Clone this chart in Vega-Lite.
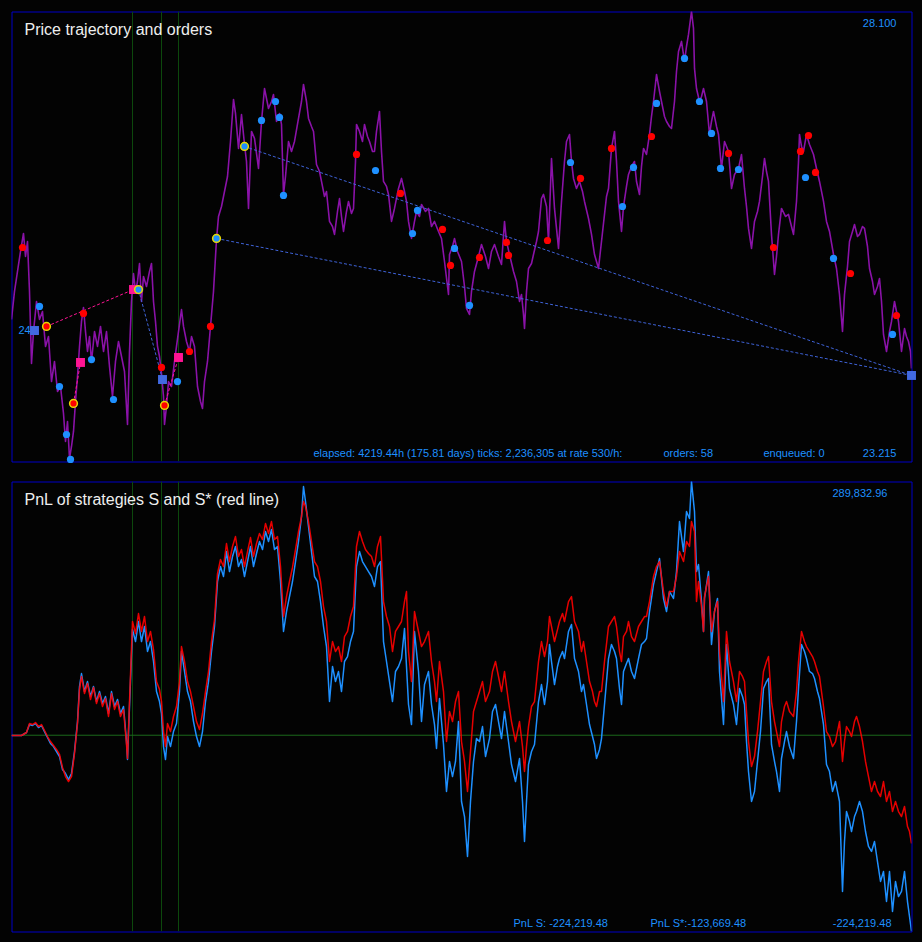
{
"$schema": "https://vega.github.io/schema/vega-lite/v6.json",
"background": "#030303",
"padding": {"left": 10.5, "top": 10.5, "right": 11.5, "bottom": 11.5},
"spacing": 20,
"bounds": "flush",
"config": {"view": {"stroke": "#0000c8", "strokeWidth": 1}, "text": {"font": "Liberation Sans"}},
"datasets": {
"price": [
{"t":0,"price":24.757},{"t":3,"price":25.061},{"t":6,"price":25.278},{"t":9,"price":25.495},{"t":12,"price":25.690},{"t":14,"price":25.441},{"t":16,"price":25.603},{"t":18,"price":25.061},{"t":20,"price":24.279},{"t":22,"price":24.626},{"t":25,"price":24.952},{"t":28,"price":24.757},{"t":31,"price":24.843},{"t":34,"price":24.464},{"t":37,"price":24.572},{"t":40,"price":24.083},{"t":43,"price":24.301},{"t":46,"price":23.975},{"t":49,"price":24.029},{"t":52,"price":23.736},{"t":54,"price":23.432},{"t":56,"price":23.649},{"t":58,"price":23.248},{"t":60,"price":23.378},{"t":62,"price":23.541},{"t":64,"price":23.866},{"t":66,"price":24.138},{"t":68,"price":24.464},{"t":70,"price":24.735},{"t":72,"price":24.887},{"t":74,"price":24.626},{"t":76,"price":24.409},{"t":78,"price":24.572},{"t":80,"price":24.301},{"t":83,"price":24.626},{"t":86,"price":24.464},{"t":89,"price":24.681},{"t":92,"price":24.409},{"t":95,"price":24.626},{"t":98,"price":24.246},{"t":101,"price":23.921},{"t":104,"price":24.301},{"t":107,"price":24.518},{"t":110,"price":24.355},{"t":113,"price":24.192},{"t":116,"price":23.617},{"t":118,"price":24.409},{"t":120,"price":24.952},{"t":122,"price":25.256},{"t":124,"price":25.061},{"t":126,"price":25.169},{"t":128,"price":25.364},{"t":130,"price":24.952},{"t":132,"price":25.224},{"t":135,"price":25.115},{"t":138,"price":25.278},{"t":140,"price":25.364},{"t":142,"price":24.952},{"t":144,"price":24.735},{"t":146,"price":24.464},{"t":148,"price":24.355},{"t":150,"price":24.170},{"t":152,"price":23.921},{"t":153,"price":23.617},{"t":155,"price":23.812},{"t":157,"price":24.083},{"t":160,"price":24.029},{"t":163,"price":24.301},{"t":165,"price":24.464},{"t":167,"price":24.626},{"t":170,"price":24.865},{"t":172,"price":24.681},{"t":175,"price":24.518},{"t":178,"price":24.409},{"t":180,"price":24.572},{"t":183,"price":24.464},{"t":186,"price":24.029},{"t":189,"price":23.866},{"t":191,"price":23.791},{"t":193,"price":24.083},{"t":196,"price":24.301},{"t":199,"price":24.681},{"t":202,"price":25.061},{"t":205,"price":25.625},{"t":207,"price":25.875},{"t":210,"price":25.983},{"t":213,"price":26.146},{"t":216,"price":26.309},{"t":219,"price":26.689},{"t":222,"price":27.145},{"t":224,"price":26.993},{"t":227,"price":26.613},{"t":230,"price":26.982},{"t":233,"price":26.656},{"t":235,"price":26.472},{"t":237,"price":25.962},{"t":240,"price":26.798},{"t":243,"price":26.722},{"t":247,"price":26.396},{"t":250,"price":26.906},{"t":253,"price":27.264},{"t":257,"price":27.047},{"t":260,"price":27.123},{"t":262,"price":27.199},{"t":265,"price":26.906},{"t":268,"price":26.993},{"t":270,"price":26.874},{"t":272,"price":26.114},{"t":274,"price":26.309},{"t":277,"price":26.689},{"t":280,"price":26.581},{"t":283,"price":26.689},{"t":287,"price":26.939},{"t":290,"price":27.123},{"t":292,"price":27.308},{"t":295,"price":27.123},{"t":297,"price":26.939},{"t":300,"price":26.852},{"t":302,"price":26.798},{"t":305,"price":26.439},{"t":308,"price":26.363},{"t":310,"price":26.255},{"t":313,"price":26.092},{"t":315,"price":26.146},{"t":318,"price":25.821},{"t":321,"price":25.766},{"t":323,"price":25.680},{"t":326,"price":25.929},{"t":328,"price":26.070},{"t":330,"price":25.875},{"t":332,"price":25.712},{"t":335,"price":25.929},{"t":337,"price":26.038},{"t":340,"price":25.907},{"t":342,"price":25.962},{"t":344,"price":26.472},{"t":345,"price":26.874},{"t":348,"price":26.798},{"t":351,"price":26.689},{"t":353,"price":26.874},{"t":356,"price":26.743},{"t":358,"price":26.689},{"t":361,"price":26.581},{"t":363,"price":26.581},{"t":365,"price":26.798},{"t":368,"price":27.015},{"t":370,"price":26.581},{"t":372,"price":26.255},{"t":375,"price":26.201},{"t":377,"price":26.114},{"t":380,"price":25.821},{"t":383,"price":25.962},{"t":387,"price":26.179},{"t":390,"price":26.288},{"t":393,"price":26.146},{"t":395,"price":26.038},{"t":397,"price":25.821},{"t":400,"price":25.636},{"t":403,"price":25.821},{"t":405,"price":25.929},{"t":408,"price":25.875},{"t":410,"price":26.005},{"t":414,"price":25.929},{"t":417,"price":25.962},{"t":420,"price":25.766},{"t":423,"price":25.821},{"t":427,"price":25.712},{"t":430,"price":25.636},{"t":433,"price":25.386},{"t":437,"price":25.028},{"t":438,"price":25.462},{"t":441,"price":25.549},{"t":443,"price":25.636},{"t":446,"price":25.495},{"t":450,"price":25.386},{"t":453,"price":25.115},{"t":455,"price":24.876},{"t":458,"price":24.811},{"t":460,"price":25.061},{"t":463,"price":25.278},{"t":467,"price":25.441},{"t":470,"price":25.571},{"t":474,"price":25.441},{"t":477,"price":25.310},{"t":480,"price":25.495},{"t":483,"price":25.571},{"t":487,"price":25.441},{"t":490,"price":25.354},{"t":493,"price":25.821},{"t":495,"price":25.603},{"t":498,"price":25.462},{"t":502,"price":25.278},{"t":505,"price":25.169},{"t":508,"price":24.952},{"t":510,"price":25.028},{"t":512,"price":24.811},{"t":513,"price":24.659},{"t":515,"price":25.061},{"t":517,"price":25.310},{"t":520,"price":25.364},{"t":522,"price":25.462},{"t":525,"price":25.603},{"t":527,"price":25.712},{"t":530,"price":26.070},{"t":532,"price":26.114},{"t":535,"price":25.983},{"t":537,"price":25.603},{"t":540,"price":26.505},{"t":543,"price":25.962},{"t":547,"price":25.528},{"t":550,"price":26.038},{"t":553,"price":26.472},{"t":555,"price":26.689},{"t":558,"price":26.765},{"t":560,"price":26.472},{"t":562,"price":26.288},{"t":565,"price":26.179},{"t":568,"price":26.255},{"t":571,"price":26.146},{"t":573,"price":26.038},{"t":577,"price":25.853},{"t":580,"price":25.680},{"t":583,"price":25.462},{"t":585,"price":25.386},{"t":587,"price":25.310},{"t":590,"price":25.603},{"t":593,"price":25.897},{"t":595,"price":26.092},{"t":597,"price":26.179},{"t":600,"price":26.613},{"t":603,"price":26.798},{"t":605,"price":26.472},{"t":607,"price":26.038},{"t":610,"price":25.712},{"t":612,"price":25.983},{"t":615,"price":26.201},{"t":617,"price":26.331},{"t":620,"price":26.418},{"t":623,"price":26.472},{"t":625,"price":26.255},{"t":628,"price":26.114},{"t":630,"price":26.418},{"t":632,"price":26.613},{"t":635,"price":26.548},{"t":638,"price":26.765},{"t":640,"price":26.960},{"t":642,"price":27.123},{"t":645,"price":27.416},{"t":648,"price":27.232},{"t":650,"price":27.123},{"t":653,"price":26.960},{"t":655,"price":26.906},{"t":658,"price":26.852},{"t":660,"price":26.830},{"t":663,"price":27.123},{"t":665,"price":27.449},{"t":667,"price":27.666},{"t":670,"price":27.775},{"t":673,"price":27.558},{"t":675,"price":27.720},{"t":677,"price":27.851},{"t":680,"price":28.100},{"t":682,"price":27.916},{"t":683,"price":27.482},{"t":685,"price":27.264},{"t":688,"price":27.123},{"t":690,"price":27.178},{"t":692,"price":27.264},{"t":695,"price":27.123},{"t":698,"price":26.765},{"t":700,"price":26.906},{"t":702,"price":27.015},{"t":705,"price":26.852},{"t":707,"price":26.765},{"t":710,"price":26.396},{"t":713,"price":26.689},{"t":717,"price":26.581},{"t":720,"price":26.179},{"t":723,"price":26.331},{"t":725,"price":26.363},{"t":727,"price":26.396},{"t":730,"price":26.548},{"t":733,"price":26.179},{"t":735,"price":25.983},{"t":737,"price":25.745},{"t":740,"price":25.528},{"t":743,"price":25.821},{"t":746,"price":25.929},{"t":748,"price":26.038},{"t":751,"price":26.309},{"t":753,"price":26.505},{"t":755,"price":26.363},{"t":757,"price":26.255},{"t":760,"price":25.680},{"t":763,"price":25.245},{"t":765,"price":25.441},{"t":767,"price":25.680},{"t":770,"price":25.962},{"t":774,"price":25.875},{"t":777,"price":25.897},{"t":780,"price":25.766},{"t":782,"price":25.680},{"t":785,"price":26.038},{"t":787,"price":26.472},{"t":788,"price":26.765},{"t":790,"price":26.635},{"t":792,"price":26.581},{"t":795,"price":26.765},{"t":798,"price":26.656},{"t":802,"price":26.548},{"t":805,"price":26.396},{"t":808,"price":26.255},{"t":812,"price":26.038},{"t":815,"price":25.821},{"t":818,"price":25.712},{"t":822,"price":25.462},{"t":825,"price":25.310},{"t":828,"price":25.028},{"t":831,"price":24.626},{"t":833,"price":25.028},{"t":836,"price":25.332},{"t":838,"price":25.603},{"t":841,"price":25.712},{"t":843,"price":25.788},{"t":846,"price":25.658},{"t":848,"price":25.680},{"t":851,"price":25.766},{"t":853,"price":25.745},{"t":856,"price":25.549},{"t":858,"price":25.310},{"t":861,"price":25.169},{"t":863,"price":25.028},{"t":866,"price":25.115},{"t":868,"price":25.202},{"t":870,"price":24.952},{"t":872,"price":24.594},{"t":875,"price":24.409},{"t":878,"price":24.626},{"t":880,"price":24.735},{"t":883,"price":24.952},{"t":885,"price":24.843},{"t":887,"price":24.735},{"t":890,"price":24.409},{"t":893,"price":24.659},{"t":895,"price":24.572},{"t":897,"price":24.518},{"t":899,"price":24.409},{"t":900,"price":24.225}
],
"orders": [
{"t":11,"price":25.538,"side":"sell","kind":"dot"},{"t":72,"price":24.822,"side":"sell","kind":"dot"},{"t":150,"price":24.236,"side":"sell","kind":"dot"},{"t":178,"price":24.409,"side":"sell","kind":"dot"},{"t":199,"price":24.681,"side":"sell","kind":"dot"},{"t":345,"price":26.548,"side":"sell","kind":"dot"},{"t":389,"price":26.125,"side":"sell","kind":"dot"},{"t":431,"price":25.734,"side":"sell","kind":"dot"},{"t":439,"price":25.343,"side":"sell","kind":"dot"},{"t":468,"price":25.430,"side":"sell","kind":"dot"},{"t":495,"price":25.593,"side":"sell","kind":"dot"},{"t":497,"price":25.452,"side":"sell","kind":"dot"},{"t":536,"price":25.614,"side":"sell","kind":"dot"},{"t":569,"price":26.288,"side":"sell","kind":"dot"},{"t":600,"price":26.613,"side":"sell","kind":"dot"},{"t":640,"price":26.743,"side":"sell","kind":"dot"},{"t":717,"price":26.559,"side":"sell","kind":"dot"},{"t":762,"price":25.538,"side":"sell","kind":"dot"},{"t":789,"price":26.581,"side":"sell","kind":"dot"},{"t":797,"price":26.754,"side":"sell","kind":"dot"},{"t":804,"price":26.353,"side":"sell","kind":"dot"},{"t":839,"price":25.256,"side":"sell","kind":"dot"},{"t":885,"price":24.800,"side":"sell","kind":"dot"},
{"t":28,"price":24.898,"side":"buy","kind":"dot"},{"t":48,"price":24.029,"side":"buy","kind":"dot"},{"t":55,"price":23.508,"side":"buy","kind":"dot"},{"t":59,"price":23.237,"side":"buy","kind":"dot"},{"t":80,"price":24.322,"side":"buy","kind":"dot"},{"t":102,"price":23.888,"side":"buy","kind":"dot"},{"t":166,"price":24.083,"side":"buy","kind":"dot"},{"t":250,"price":26.917,"side":"buy","kind":"dot"},{"t":264,"price":27.123,"side":"buy","kind":"dot"},{"t":268,"price":26.950,"side":"buy","kind":"dot"},{"t":272,"price":26.103,"side":"buy","kind":"dot"},{"t":364,"price":26.374,"side":"buy","kind":"dot"},{"t":406,"price":25.940,"side":"buy","kind":"dot"},{"t":401,"price":25.690,"side":"buy","kind":"dot"},{"t":443,"price":25.528,"side":"buy","kind":"dot"},{"t":458,"price":24.909,"side":"buy","kind":"dot"},{"t":559,"price":26.461,"side":"buy","kind":"dot"},{"t":611,"price":25.983,"side":"buy","kind":"dot"},{"t":622,"price":26.407,"side":"buy","kind":"dot"},{"t":645,"price":27.102,"side":"buy","kind":"dot"},{"t":673,"price":27.590,"side":"buy","kind":"dot"},{"t":688,"price":27.123,"side":"buy","kind":"dot"},{"t":700,"price":26.776,"side":"buy","kind":"dot"},{"t":709,"price":26.396,"side":"buy","kind":"dot"},{"t":727,"price":26.385,"side":"buy","kind":"dot"},{"t":794,"price":26.298,"side":"buy","kind":"dot"},{"t":822,"price":25.419,"side":"buy","kind":"dot"},{"t":881,"price":24.594,"side":"buy","kind":"dot"},
{"t":35,"price":24.681,"side":"sell","kind":"ring"},{"t":62,"price":23.845,"side":"sell","kind":"ring"},{"t":153,"price":23.823,"side":"sell","kind":"ring"},
{"t":127,"price":25.082,"side":"buy","kind":"ring"},{"t":205,"price":25.636,"side":"buy","kind":"ring"},{"t":233,"price":26.635,"side":"buy","kind":"ring"},
{"t":69,"price":24.290,"side":"sell","kind":"square"},{"t":122,"price":25.082,"side":"sell","kind":"square"},{"t":167,"price":24.344,"side":"sell","kind":"square"},
{"t":151,"price":24.105,"side":"buy","kind":"square"},{"t":900,"price":24.149,"side":"buy","kind":"square"},{"t":23,"price":24.637,"side":"buy","kind":"square"}
],
"links": [
{"t":35,"price":24.681,"t2":122,"price2":25.082,"side":"sell"},
{"t":62,"price":23.845,"t2":69,"price2":24.290,"side":"sell"},
{"t":153,"price":23.823,"t2":167,"price2":24.344,"side":"sell"},
{"t":127,"price":25.082,"t2":151,"price2":24.105,"side":"buy"},
{"t":233,"price":26.635,"t2":900,"price2":24.149,"side":"buy"},
{"t":205,"price":25.636,"t2":900,"price2":24.149,"side":"buy"}
],
"marks": [{"t":121},{"t":150},{"t":167}],
"pnlS": [
{"t":0,"pnl":-300},{"t":10,"pnl":-300},{"t":15,"pnl":3100},{"t":18,"pnl":12200},{"t":21,"pnl":11100},{"t":24,"pnl":13400},{"t":27,"pnl":8800},{"t":30,"pnl":11100},{"t":33,"pnl":4200},{"t":36,"pnl":-2600},{"t":39,"pnl":-9500},{"t":42,"pnl":-12900},{"t":45,"pnl":-18600},{"t":48,"pnl":-24300},{"t":51,"pnl":-39200},{"t":54,"pnl":-43700},{"t":57,"pnl":-50600},{"t":60,"pnl":-43700},{"t":63,"pnl":-18600},{"t":66,"pnl":15600},{"t":68,"pnl":55600},{"t":70,"pnl":70500},{"t":73,"pnl":49900},{"t":76,"pnl":61300},{"t":79,"pnl":44200},{"t":82,"pnl":55600},{"t":85,"pnl":38500},{"t":88,"pnl":49900},{"t":91,"pnl":36200},{"t":94,"pnl":44200},{"t":97,"pnl":24800},{"t":100,"pnl":49900},{"t":103,"pnl":32800},{"t":106,"pnl":40800},{"t":109,"pnl":24800},{"t":112,"pnl":32800},{"t":115,"pnl":-7200},{"t":116,"pnl":-27800},{"t":118,"pnl":32800},{"t":121,"pnl":120700},{"t":124,"pnl":107000},{"t":127,"pnl":129900},{"t":130,"pnl":107000},{"t":133,"pnl":124200},{"t":136,"pnl":95600},{"t":139,"pnl":107000},{"t":142,"pnl":84200},{"t":145,"pnl":49900},{"t":148,"pnl":38500},{"t":150,"pnl":24800},{"t":152,"pnl":-12900},{"t":154,"pnl":-27800},{"t":156,"pnl":-1500},{"t":159,"pnl":-12900},{"t":162,"pnl":4200},{"t":165,"pnl":13400},{"t":168,"pnl":49900},{"t":170,"pnl":95600},{"t":173,"pnl":72800},{"t":176,"pnl":49900},{"t":179,"pnl":38500},{"t":182,"pnl":15600},{"t":185,"pnl":-1500},{"t":188,"pnl":-12900},{"t":191,"pnl":4200},{"t":194,"pnl":38500},{"t":197,"pnl":61300},{"t":200,"pnl":95600},{"t":203,"pnl":124200},{"t":206,"pnl":175600},{"t":209,"pnl":192700},{"t":212,"pnl":181300},{"t":215,"pnl":209800},{"t":218,"pnl":187000},{"t":221,"pnl":204100},{"t":224,"pnl":215600},{"t":227,"pnl":192700},{"t":230,"pnl":200700},{"t":233,"pnl":181300},{"t":236,"pnl":198400},{"t":239,"pnl":215600},{"t":242,"pnl":192700},{"t":245,"pnl":207600},{"t":248,"pnl":221300},{"t":251,"pnl":212100},{"t":254,"pnl":232700},{"t":257,"pnl":221300},{"t":260,"pnl":235000},{"t":263,"pnl":212100},{"t":266,"pnl":215600},{"t":269,"pnl":175600},{"t":272,"pnl":118500},{"t":275,"pnl":141300},{"t":278,"pnl":158400},{"t":281,"pnl":175600},{"t":284,"pnl":198400},{"t":287,"pnl":221300},{"t":290,"pnl":249800},{"t":292,"pnl":284100},{"t":294,"pnl":267000},{"t":297,"pnl":238400},{"t":300,"pnl":209800},{"t":303,"pnl":181300},{"t":306,"pnl":175600},{"t":309,"pnl":152700},{"t":312,"pnl":124200},{"t":315,"pnl":101300},{"t":318,"pnl":38500},{"t":321,"pnl":78500},{"t":324,"pnl":61300},{"t":327,"pnl":72800},{"t":330,"pnl":49900},{"t":333,"pnl":84200},{"t":336,"pnl":89900},{"t":339,"pnl":107000},{"t":342,"pnl":118500},{"t":345,"pnl":192700},{"t":348,"pnl":209800},{"t":351,"pnl":198400},{"t":354,"pnl":192700},{"t":357,"pnl":187000},{"t":360,"pnl":181300},{"t":363,"pnl":169900},{"t":366,"pnl":192700},{"t":369,"pnl":198400},{"t":372,"pnl":107000},{"t":375,"pnl":84200},{"t":378,"pnl":61300},{"t":381,"pnl":38500},{"t":384,"pnl":72800},{"t":387,"pnl":78500},{"t":390,"pnl":87600},{"t":393,"pnl":121900},{"t":397,"pnl":35100},{"t":400,"pnl":12200},{"t":403,"pnl":118500},{"t":407,"pnl":72800},{"t":410,"pnl":15600},{"t":413,"pnl":57900},{"t":417,"pnl":72800},{"t":420,"pnl":35100},{"t":423,"pnl":12200},{"t":425,"pnl":-15200},{"t":428,"pnl":41900},{"t":432,"pnl":-10600},{"t":435,"pnl":-64300},{"t":438,"pnl":-30000},{"t":441,"pnl":-47200},{"t":444,"pnl":-30000},{"t":447,"pnl":15600},{"t":450,"pnl":-75700},{"t":453,"pnl":-92900},{"t":456,"pnl":-138600},{"t":459,"pnl":-75700},{"t":462,"pnl":-30000},{"t":465,"pnl":-3800},{"t":468,"pnl":-7200},{"t":471,"pnl":9900},{"t":474,"pnl":-24300},{"t":478,"pnl":-3800},{"t":481,"pnl":27100},{"t":484,"pnl":35100},{"t":487,"pnl":15600},{"t":490,"pnl":-3800},{"t":493,"pnl":27100},{"t":497,"pnl":-7200},{"t":500,"pnl":-33500},{"t":504,"pnl":-52900},{"t":508,"pnl":-26600},{"t":511,"pnl":-75700},{"t":513,"pnl":-121400},{"t":515,"pnl":-75700},{"t":517,"pnl":-33500},{"t":520,"pnl":-18600},{"t":523,"pnl":-10600},{"t":527,"pnl":38500},{"t":530,"pnl":57900},{"t":533,"pnl":35100},{"t":536,"pnl":61300},{"t":538,"pnl":103600},{"t":540,"pnl":84200},{"t":543,"pnl":57900},{"t":546,"pnl":78500},{"t":548,"pnl":87600},{"t":551,"pnl":95600},{"t":553,"pnl":87600},{"t":557,"pnl":118500},{"t":560,"pnl":126500},{"t":563,"pnl":87600},{"t":567,"pnl":72800},{"t":570,"pnl":49900},{"t":572,"pnl":57900},{"t":575,"pnl":35100},{"t":578,"pnl":12200},{"t":581,"pnl":-1500},{"t":583,"pnl":-10600},{"t":585,"pnl":-26600},{"t":588,"pnl":-16300},{"t":590,"pnl":-3800},{"t":593,"pnl":35100},{"t":597,"pnl":87600},{"t":600,"pnl":103600},{"t":603,"pnl":95600},{"t":605,"pnl":87600},{"t":608,"pnl":53300},{"t":610,"pnl":35100},{"t":612,"pnl":72800},{"t":615,"pnl":81900},{"t":617,"pnl":87600},{"t":620,"pnl":72800},{"t":623,"pnl":64800},{"t":627,"pnl":87600},{"t":630,"pnl":103600},{"t":633,"pnl":107000},{"t":635,"pnl":110500},{"t":638,"pnl":141300},{"t":642,"pnl":172100},{"t":645,"pnl":187000},{"t":648,"pnl":201800},{"t":652,"pnl":156200},{"t":655,"pnl":141300},{"t":658,"pnl":164100},{"t":662,"pnl":156200},{"t":665,"pnl":187000},{"t":668,"pnl":244100},{"t":672,"pnl":209800},{"t":675,"pnl":255500},{"t":678,"pnl":247500},{"t":680,"pnl":289832.96},{"t":683,"pnl":255500},{"t":685,"pnl":187000},{"t":687,"pnl":195000},{"t":690,"pnl":152700},{"t":692,"pnl":118500},{"t":693,"pnl":156200},{"t":697,"pnl":187000},{"t":700,"pnl":103600},{"t":703,"pnl":141300},{"t":706,"pnl":156200},{"t":708,"pnl":72800},{"t":712,"pnl":12200},{"t":715,"pnl":103600},{"t":718,"pnl":53300},{"t":722,"pnl":35100},{"t":725,"pnl":12200},{"t":728,"pnl":53300},{"t":731,"pnl":44200},{"t":733,"pnl":35100},{"t":735,"pnl":-7200},{"t":737,"pnl":-41500},{"t":740,"pnl":-75700},{"t":743,"pnl":-64300},{"t":746,"pnl":-30000},{"t":749,"pnl":4200},{"t":752,"pnl":53300},{"t":755,"pnl":61300},{"t":757,"pnl":64800},{"t":760,"pnl":-10600},{"t":763,"pnl":-30000},{"t":765,"pnl":-41500},{"t":768,"pnl":-64300},{"t":770,"pnl":-26600},{"t":773,"pnl":-7200},{"t":775,"pnl":4200},{"t":778,"pnl":-12900},{"t":782,"pnl":-26600},{"t":785,"pnl":15600},{"t":787,"pnl":53300},{"t":790,"pnl":103600},{"t":793,"pnl":95600},{"t":795,"pnl":87600},{"t":798,"pnl":72800},{"t":801,"pnl":70500},{"t":803,"pnl":64800},{"t":806,"pnl":49900},{"t":808,"pnl":41900},{"t":810,"pnl":27100},{"t":812,"pnl":12200},{"t":815,"pnl":-33500},{"t":818,"pnl":-41500},{"t":821,"pnl":-64300},{"t":824,"pnl":-52900},{"t":828,"pnl":-75700},{"t":831,"pnl":-178500},{"t":833,"pnl":-121400},{"t":835,"pnl":-87200},{"t":838,"pnl":-98600},{"t":840,"pnl":-110000},{"t":843,"pnl":-92900},{"t":845,"pnl":-87200},{"t":848,"pnl":-75700},{"t":851,"pnl":-87200},{"t":854,"pnl":-110000},{"t":857,"pnl":-127100},{"t":860,"pnl":-132800},{"t":863,"pnl":-121400},{"t":866,"pnl":-144300},{"t":869,"pnl":-167100},{"t":872,"pnl":-155700},{"t":875,"pnl":-190000},{"t":878,"pnl":-155700},{"t":881,"pnl":-201400},{"t":884,"pnl":-167100},{"t":887,"pnl":-184300},{"t":890,"pnl":-178500},{"t":893,"pnl":-155700},{"t":896,"pnl":-190000},{"t":898,"pnl":-207100},{"t":900,"pnl":-224219.48}
],
"pnlSstar": [
{"t":0,"pnl":-300},{"t":10,"pnl":-300},{"t":15,"pnl":3100},{"t":18,"pnl":13400},{"t":21,"pnl":12200},{"t":24,"pnl":14500},{"t":27,"pnl":9900},{"t":30,"pnl":12200},{"t":33,"pnl":5400},{"t":36,"pnl":-1500},{"t":39,"pnl":-7200},{"t":42,"pnl":-11800},{"t":45,"pnl":-16300},{"t":48,"pnl":-22000},{"t":51,"pnl":-36900},{"t":54,"pnl":-47200},{"t":57,"pnl":-52900},{"t":60,"pnl":-47200},{"t":63,"pnl":-20900},{"t":66,"pnl":13400},{"t":68,"pnl":52200},{"t":70,"pnl":67100},{"t":73,"pnl":47600},{"t":76,"pnl":59100},{"t":79,"pnl":40800},{"t":82,"pnl":54500},{"t":85,"pnl":36200},{"t":88,"pnl":47600},{"t":91,"pnl":32800},{"t":94,"pnl":41900},{"t":97,"pnl":21400},{"t":100,"pnl":47600},{"t":103,"pnl":29400},{"t":106,"pnl":38500},{"t":109,"pnl":21400},{"t":112,"pnl":29400},{"t":115,"pnl":-10600},{"t":116,"pnl":-26600},{"t":118,"pnl":38500},{"t":121,"pnl":129900},{"t":124,"pnl":116200},{"t":127,"pnl":139000},{"t":130,"pnl":118500},{"t":133,"pnl":135600},{"t":136,"pnl":107000},{"t":139,"pnl":118500},{"t":142,"pnl":97900},{"t":145,"pnl":61300},{"t":148,"pnl":52200},{"t":150,"pnl":38500},{"t":152,"pnl":4200},{"t":154,"pnl":-12900},{"t":156,"pnl":13400},{"t":159,"pnl":4200},{"t":162,"pnl":21400},{"t":165,"pnl":32800},{"t":168,"pnl":61300},{"t":170,"pnl":101300},{"t":173,"pnl":84200},{"t":176,"pnl":61300},{"t":179,"pnl":49900},{"t":182,"pnl":32800},{"t":185,"pnl":15600},{"t":188,"pnl":6500},{"t":191,"pnl":24800},{"t":194,"pnl":49900},{"t":197,"pnl":72800},{"t":200,"pnl":107000},{"t":203,"pnl":132200},{"t":206,"pnl":184700},{"t":209,"pnl":200700},{"t":212,"pnl":192700},{"t":215,"pnl":219000},{"t":218,"pnl":198400},{"t":221,"pnl":215600},{"t":224,"pnl":227000},{"t":227,"pnl":204100},{"t":230,"pnl":212100},{"t":233,"pnl":192700},{"t":236,"pnl":209800},{"t":239,"pnl":225800},{"t":242,"pnl":204100},{"t":245,"pnl":219000},{"t":248,"pnl":230400},{"t":251,"pnl":223500},{"t":254,"pnl":241800},{"t":257,"pnl":230400},{"t":260,"pnl":244100},{"t":263,"pnl":223500},{"t":266,"pnl":227000},{"t":269,"pnl":192700},{"t":272,"pnl":135600},{"t":275,"pnl":158400},{"t":278,"pnl":175600},{"t":281,"pnl":191600},{"t":284,"pnl":212100},{"t":287,"pnl":232700},{"t":290,"pnl":249800},{"t":292,"pnl":267000},{"t":294,"pnl":261200},{"t":297,"pnl":244100},{"t":300,"pnl":221300},{"t":303,"pnl":198400},{"t":306,"pnl":192700},{"t":309,"pnl":175600},{"t":312,"pnl":147000},{"t":315,"pnl":129900},{"t":318,"pnl":84200},{"t":321,"pnl":107000},{"t":324,"pnl":95600},{"t":327,"pnl":101300},{"t":330,"pnl":84200},{"t":333,"pnl":112700},{"t":336,"pnl":118500},{"t":339,"pnl":135600},{"t":342,"pnl":147000},{"t":345,"pnl":215600},{"t":348,"pnl":232700},{"t":351,"pnl":221300},{"t":354,"pnl":212100},{"t":357,"pnl":207600},{"t":360,"pnl":204100},{"t":363,"pnl":192700},{"t":366,"pnl":215600},{"t":369,"pnl":227000},{"t":372,"pnl":152700},{"t":375,"pnl":135600},{"t":378,"pnl":124200},{"t":381,"pnl":95600},{"t":384,"pnl":118500},{"t":387,"pnl":124200},{"t":390,"pnl":129900},{"t":393,"pnl":152700},{"t":395,"pnl":164100},{"t":397,"pnl":95600},{"t":400,"pnl":61300},{"t":403,"pnl":141300},{"t":407,"pnl":118500},{"t":410,"pnl":101300},{"t":413,"pnl":107000},{"t":417,"pnl":118500},{"t":420,"pnl":84200},{"t":423,"pnl":61300},{"t":425,"pnl":38500},{"t":428,"pnl":84200},{"t":432,"pnl":49900},{"t":435,"pnl":-7200},{"t":438,"pnl":27100},{"t":441,"pnl":15600},{"t":444,"pnl":38500},{"t":447,"pnl":49900},{"t":450,"pnl":-7200},{"t":453,"pnl":-30000},{"t":456,"pnl":-64300},{"t":459,"pnl":-18600},{"t":462,"pnl":27100},{"t":465,"pnl":38500},{"t":468,"pnl":49900},{"t":471,"pnl":61300},{"t":474,"pnl":38500},{"t":478,"pnl":49900},{"t":481,"pnl":72800},{"t":484,"pnl":84200},{"t":487,"pnl":67100},{"t":490,"pnl":49900},{"t":493,"pnl":72800},{"t":497,"pnl":38500},{"t":500,"pnl":15600},{"t":504,"pnl":-7200},{"t":508,"pnl":15600},{"t":511,"pnl":-12900},{"t":513,"pnl":-41500},{"t":515,"pnl":-12900},{"t":517,"pnl":9900},{"t":520,"pnl":32800},{"t":523,"pnl":38500},{"t":527,"pnl":84200},{"t":530,"pnl":107000},{"t":533,"pnl":89900},{"t":536,"pnl":107000},{"t":538,"pnl":135600},{"t":540,"pnl":124200},{"t":543,"pnl":107000},{"t":546,"pnl":120700},{"t":548,"pnl":129900},{"t":551,"pnl":139000},{"t":553,"pnl":129900},{"t":557,"pnl":152700},{"t":560,"pnl":158400},{"t":563,"pnl":129900},{"t":567,"pnl":118500},{"t":570,"pnl":95600},{"t":572,"pnl":107000},{"t":575,"pnl":84200},{"t":578,"pnl":61300},{"t":581,"pnl":49900},{"t":583,"pnl":38500},{"t":585,"pnl":32800},{"t":588,"pnl":49900},{"t":590,"pnl":49900},{"t":593,"pnl":84200},{"t":597,"pnl":124200},{"t":600,"pnl":129900},{"t":603,"pnl":135600},{"t":605,"pnl":124200},{"t":608,"pnl":95600},{"t":610,"pnl":84200},{"t":612,"pnl":112700},{"t":615,"pnl":118500},{"t":617,"pnl":129900},{"t":620,"pnl":112700},{"t":623,"pnl":107000},{"t":627,"pnl":124200},{"t":630,"pnl":129900},{"t":633,"pnl":135600},{"t":635,"pnl":135600},{"t":638,"pnl":152700},{"t":642,"pnl":181300},{"t":645,"pnl":192700},{"t":648,"pnl":198400},{"t":652,"pnl":164100},{"t":655,"pnl":147000},{"t":658,"pnl":164100},{"t":662,"pnl":164100},{"t":665,"pnl":181300},{"t":668,"pnl":209800},{"t":672,"pnl":198400},{"t":675,"pnl":221300},{"t":678,"pnl":215600},{"t":680,"pnl":244100},{"t":683,"pnl":232700},{"t":685,"pnl":152700},{"t":687,"pnl":175600},{"t":690,"pnl":147000},{"t":692,"pnl":118500},{"t":693,"pnl":158400},{"t":697,"pnl":181300},{"t":700,"pnl":118500},{"t":703,"pnl":141300},{"t":706,"pnl":152700},{"t":708,"pnl":95600},{"t":712,"pnl":38500},{"t":715,"pnl":118500},{"t":718,"pnl":84200},{"t":722,"pnl":61300},{"t":725,"pnl":38500},{"t":728,"pnl":72800},{"t":731,"pnl":67100},{"t":733,"pnl":61300},{"t":735,"pnl":27100},{"t":737,"pnl":-7200},{"t":740,"pnl":-35800},{"t":743,"pnl":-24300},{"t":746,"pnl":4200},{"t":752,"pnl":72800},{"t":755,"pnl":84200},{"t":757,"pnl":89900},{"t":760,"pnl":38500},{"t":763,"pnl":15600},{"t":765,"pnl":4200},{"t":768,"pnl":-12900},{"t":770,"pnl":15600},{"t":773,"pnl":32800},{"t":775,"pnl":38500},{"t":778,"pnl":27100},{"t":782,"pnl":21400},{"t":785,"pnl":49900},{"t":787,"pnl":84200},{"t":790,"pnl":118500},{"t":793,"pnl":107000},{"t":795,"pnl":101300},{"t":798,"pnl":95600},{"t":801,"pnl":89900},{"t":803,"pnl":84200},{"t":806,"pnl":72800},{"t":808,"pnl":67100},{"t":810,"pnl":49900},{"t":812,"pnl":32800},{"t":815,"pnl":4200},{"t":818,"pnl":-1500},{"t":821,"pnl":-12900},{"t":824,"pnl":-7200},{"t":828,"pnl":15600},{"t":831,"pnl":-30000},{"t":833,"pnl":-7200},{"t":835,"pnl":9900},{"t":838,"pnl":4200},{"t":840,"pnl":-1500},{"t":843,"pnl":15600},{"t":845,"pnl":21400},{"t":848,"pnl":9900},{"t":851,"pnl":-7200},{"t":854,"pnl":-30000},{"t":857,"pnl":-47200},{"t":860,"pnl":-64300},{"t":863,"pnl":-52900},{"t":866,"pnl":-64300},{"t":869,"pnl":-70000},{"t":872,"pnl":-52900},{"t":875,"pnl":-75700},{"t":878,"pnl":-64300},{"t":881,"pnl":-87200},{"t":884,"pnl":-75700},{"t":887,"pnl":-87200},{"t":890,"pnl":-92900},{"t":893,"pnl":-81400},{"t":896,"pnl":-104300},{"t":898,"pnl":-110000},{"t":900,"pnl":-123669.48}
]
},
"vconcat": [
{
"width": 900, "height": 450,
"layer": [
{"data": {"name": "marks"}, "mark": {"type": "rule", "color": "#0c480c", "strokeWidth": 1, "clip": true},
 "encoding": {"x": {"field": "t", "type": "quantitative", "scale": {"domain": [0, 900], "nice": false, "zero": false}, "axis": null}}},
{"data": {"name": "price"}, "mark": {"type": "line", "color": "#8a12a8", "strokeWidth": 1.6, "strokeJoin": "round", "clip": true},
 "encoding": {"x": {"field": "t", "type": "quantitative", "scale": {"domain": [0, 900], "nice": false, "zero": false}, "axis": null},
  "y": {"field": "price", "type": "quantitative", "scale": {"domain": [23.215, 28.1], "nice": false, "zero": false}, "axis": null}}},
{"data": {"name": "links"}, "transform": [{"filter": "datum.side === 'sell'"}], "mark": {"type": "rule", "color": "#ff1493", "strokeWidth": 1, "strokeDash": [3, 2], "clip": true},
 "encoding": {"x": {"field": "t", "type": "quantitative", "axis": null}, "y": {"field": "price", "type": "quantitative", "axis": null}, "x2": {"field": "t2"}, "y2": {"field": "price2"}}},
{"data": {"name": "links"}, "transform": [{"filter": "datum.side === 'buy'"}], "mark": {"type": "rule", "color": "#3f63d8", "strokeWidth": 1, "strokeDash": [3, 2], "clip": true},
 "encoding": {"x": {"field": "t", "type": "quantitative", "axis": null}, "y": {"field": "price", "type": "quantitative", "axis": null}, "x2": {"field": "t2"}, "y2": {"field": "price2"}}},
{"data": {"name": "orders"}, "transform": [{"filter": "datum.kind === 'dot' && datum.side === 'buy'"}], "mark": {"type": "circle", "color": "#1e90ff", "size": 52, "opacity": 1},
 "encoding": {"x": {"field": "t", "type": "quantitative", "axis": null}, "y": {"field": "price", "type": "quantitative", "axis": null}}},
{"data": {"name": "orders"}, "transform": [{"filter": "datum.kind === 'dot' && datum.side === 'sell'"}], "mark": {"type": "circle", "color": "#ff0000", "size": 52, "opacity": 1},
 "encoding": {"x": {"field": "t", "type": "quantitative", "axis": null}, "y": {"field": "price", "type": "quantitative", "axis": null}}},
{"data": {"values": [{"t": 7, "price": 24.637, "label": "24"}]}, "mark": {"type": "text", "color": "#1e90ff", "fontSize": 11, "align": "left", "baseline": "middle"},
 "encoding": {"x": {"field": "t", "type": "quantitative", "axis": null}, "y": {"field": "price", "type": "quantitative", "axis": null}, "text": {"field": "label"}}},
{"data": {"name": "orders"}, "transform": [{"filter": "datum.kind === 'square' && datum.side === 'sell'"}], "mark": {"type": "square", "color": "#ff1493", "size": 80, "opacity": 1},
 "encoding": {"x": {"field": "t", "type": "quantitative", "axis": null}, "y": {"field": "price", "type": "quantitative", "axis": null}}},
{"data": {"name": "orders"}, "transform": [{"filter": "datum.kind === 'square' && datum.side === 'buy'"}], "mark": {"type": "square", "color": "#4169e1", "size": 80, "opacity": 1},
 "encoding": {"x": {"field": "t", "type": "quantitative", "axis": null}, "y": {"field": "price", "type": "quantitative", "axis": null}}},
{"data": {"name": "orders"}, "transform": [{"filter": "datum.kind === 'ring' && datum.side === 'sell'"}], "mark": {"type": "point", "shape": "circle", "filled": false, "fill": "#ff0000", "fillOpacity": 1, "stroke": "#e8d800", "strokeWidth": 1.5, "size": 60, "opacity": 1},
 "encoding": {"x": {"field": "t", "type": "quantitative", "axis": null}, "y": {"field": "price", "type": "quantitative", "axis": null}}},
{"data": {"name": "orders"}, "transform": [{"filter": "datum.kind === 'ring' && datum.side === 'buy'"}], "mark": {"type": "point", "shape": "circle", "filled": false, "fill": "#1e90ff", "fillOpacity": 1, "stroke": "#e8d800", "strokeWidth": 1.5, "size": 60, "opacity": 1},
 "encoding": {"x": {"field": "t", "type": "quantitative", "axis": null}, "y": {"field": "price", "type": "quantitative", "axis": null}}},
{"data": {"values": [{"t": 13, "price": 28.1, "label": "Price trajectory and orders"}]}, "mark": {"type": "text", "color": "#eeeeee", "fontSize": 16, "align": "left", "baseline": "alphabetic", "dy": 23.5},
 "encoding": {"x": {"field": "t", "type": "quantitative", "axis": null}, "y": {"field": "price", "type": "quantitative", "axis": null}, "text": {"field": "label"}}},
{"data": {"values": [{"t": 885, "price": 28.1, "label": "28.100"}]}, "mark": {"type": "text", "color": "#1e90ff", "fontSize": 11, "align": "right", "baseline": "alphabetic", "dy": 15},
 "encoding": {"x": {"field": "t", "type": "quantitative", "axis": null}, "y": {"field": "price", "type": "quantitative", "axis": null}, "text": {"field": "label"}}},
{"data": {"values": [{"t": 885, "price": 23.215, "label": "23.215"}]}, "mark": {"type": "text", "color": "#1e90ff", "fontSize": 11, "align": "right", "baseline": "alphabetic", "dy": -5},
 "encoding": {"x": {"field": "t", "type": "quantitative", "axis": null}, "y": {"field": "price", "type": "quantitative", "axis": null}, "text": {"field": "label"}}},
{"data": {"values": [{"t": 302, "price": 23.215, "label": "elapsed: 4219.44h (175.81 days) ticks: 2,236,305 at rate 530/h:"}, {"t": 652, "price": 23.215, "label": "orders: 58"}, {"t": 752, "price": 23.215, "label": "enqueued: 0"}]}, "mark": {"type": "text", "color": "#1e90ff", "fontSize": 11, "align": "left", "baseline": "alphabetic", "dy": -5},
 "encoding": {"x": {"field": "t", "type": "quantitative", "axis": null}, "y": {"field": "price", "type": "quantitative", "axis": null}, "text": {"field": "label"}}}
]
},
{
"width": 900, "height": 450,
"layer": [
{"data": {"name": "marks"}, "mark": {"type": "rule", "color": "#0c480c", "strokeWidth": 1, "clip": true},
 "encoding": {"x": {"field": "t", "type": "quantitative", "scale": {"domain": [0, 900], "nice": false, "zero": false}, "axis": null}}},
{"data": {"values": [{"pnl": 0}]}, "mark": {"type": "rule", "color": "#1c6a1c", "strokeWidth": 1, "clip": true},
 "encoding": {"y": {"field": "pnl", "type": "quantitative", "scale": {"domain": [-224219.48, 289832.96], "nice": false, "zero": false}, "axis": null}}},
{"data": {"name": "pnlS"}, "mark": {"type": "line", "color": "#1e90ff", "strokeWidth": 1.5, "strokeJoin": "round", "clip": true},
 "encoding": {"x": {"field": "t", "type": "quantitative", "axis": null}, "y": {"field": "pnl", "type": "quantitative", "axis": null}}},
{"data": {"name": "pnlSstar"}, "mark": {"type": "line", "color": "#ff0000", "strokeWidth": 1.5, "strokeJoin": "round", "opacity": 0.9, "clip": true},
 "encoding": {"x": {"field": "t", "type": "quantitative", "axis": null}, "y": {"field": "pnl", "type": "quantitative", "axis": null}}},
{"data": {"values": [{"t": 13, "pnl": 289832.96, "label": "PnL of strategies S and S* (red line)"}]}, "mark": {"type": "text", "color": "#eeeeee", "fontSize": 16, "align": "left", "baseline": "alphabetic", "dy": 23.5},
 "encoding": {"x": {"field": "t", "type": "quantitative", "axis": null}, "y": {"field": "pnl", "type": "quantitative", "axis": null}, "text": {"field": "label"}}},
{"data": {"values": [{"t": 876, "pnl": 289832.96, "label": "289,832.96"}]}, "mark": {"type": "text", "color": "#1e90ff", "fontSize": 11, "align": "right", "baseline": "alphabetic", "dy": 15},
 "encoding": {"x": {"field": "t", "type": "quantitative", "axis": null}, "y": {"field": "pnl", "type": "quantitative", "axis": null}, "text": {"field": "label"}}},
{"data": {"values": [{"t": 880, "pnl": -224219.48, "label": "-224,219.48"}]}, "mark": {"type": "text", "color": "#1e90ff", "fontSize": 11, "align": "right", "baseline": "alphabetic", "dy": -5},
 "encoding": {"x": {"field": "t", "type": "quantitative", "axis": null}, "y": {"field": "pnl", "type": "quantitative", "axis": null}, "text": {"field": "label"}}},
{"data": {"values": [{"t": 502, "pnl": -224219.48, "label": "PnL S: -224,219.48"}, {"t": 639, "pnl": -224219.48, "label": "PnL S*:-123,669.48"}]}, "mark": {"type": "text", "color": "#1e90ff", "fontSize": 11, "align": "left", "baseline": "alphabetic", "dy": -5},
 "encoding": {"x": {"field": "t", "type": "quantitative", "axis": null}, "y": {"field": "pnl", "type": "quantitative", "axis": null}, "text": {"field": "label"}}}
]
}
]
}
